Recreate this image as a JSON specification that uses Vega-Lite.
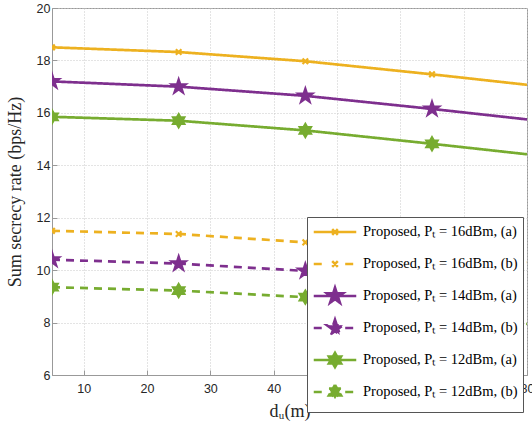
{
  "$schema": "https://vega.github.io/schema/vega-lite/v6.json",
  "width": 475,
  "height": 367,
  "autosize": "none",
  "padding": {"left": 52, "top": 8, "right": 5, "bottom": 58},
  "background": "white",
  "config": {
    "view": {"stroke": "#999999", "strokeWidth": 1},
    "axis": {
      "domainColor": "#999999",
      "tickColor": "#999999",
      "labelFont": "Liberation Sans",
      "labelFontSize": 12.5,
      "labelColor": "#262626",
      "titleFont": "Liberation Serif",
      "titleFontSize": 18,
      "titleFontWeight": "normal",
      "titleColor": "#262626",
      "gridColor": "#c8c8c8",
      "gridDash": [1, 2],
      "gridWidth": 1
    }
  },
  "data": {
    "values": [
      {"series": "Proposed, Pₜ = 16dBm, (a)", "x": 5, "y": 18.5},
      {"series": "Proposed, Pₜ = 16dBm, (a)", "x": 25, "y": 18.32},
      {"series": "Proposed, Pₜ = 16dBm, (a)", "x": 45, "y": 17.97},
      {"series": "Proposed, Pₜ = 16dBm, (a)", "x": 65, "y": 17.47},
      {"series": "Proposed, Pₜ = 16dBm, (a)", "x": 80, "y": 17.07},
      {"series": "Proposed, Pₜ = 16dBm, (b)", "x": 5, "y": 11.5},
      {"series": "Proposed, Pₜ = 16dBm, (b)", "x": 25, "y": 11.38},
      {"series": "Proposed, Pₜ = 16dBm, (b)", "x": 45, "y": 11.06},
      {"series": "Proposed, Pₜ = 16dBm, (b)", "x": 65, "y": 10.65},
      {"series": "Proposed, Pₜ = 16dBm, (b)", "x": 80, "y": 10.31},
      {"series": "Proposed, Pₜ = 14dBm, (a)", "x": 5, "y": 17.2},
      {"series": "Proposed, Pₜ = 14dBm, (a)", "x": 25, "y": 17.0},
      {"series": "Proposed, Pₜ = 14dBm, (a)", "x": 45, "y": 16.65},
      {"series": "Proposed, Pₜ = 14dBm, (a)", "x": 65, "y": 16.15},
      {"series": "Proposed, Pₜ = 14dBm, (a)", "x": 80, "y": 15.75},
      {"series": "Proposed, Pₜ = 14dBm, (b)", "x": 5, "y": 10.4},
      {"series": "Proposed, Pₜ = 14dBm, (b)", "x": 25, "y": 10.25},
      {"series": "Proposed, Pₜ = 14dBm, (b)", "x": 45, "y": 9.97},
      {"series": "Proposed, Pₜ = 14dBm, (b)", "x": 65, "y": 9.6},
      {"series": "Proposed, Pₜ = 14dBm, (b)", "x": 80, "y": 9.35},
      {"series": "Proposed, Pₜ = 12dBm, (a)", "x": 5, "y": 15.85},
      {"series": "Proposed, Pₜ = 12dBm, (a)", "x": 25, "y": 15.7},
      {"series": "Proposed, Pₜ = 12dBm, (a)", "x": 45, "y": 15.33},
      {"series": "Proposed, Pₜ = 12dBm, (a)", "x": 65, "y": 14.82},
      {"series": "Proposed, Pₜ = 12dBm, (a)", "x": 80, "y": 14.42},
      {"series": "Proposed, Pₜ = 12dBm, (b)", "x": 5, "y": 9.35},
      {"series": "Proposed, Pₜ = 12dBm, (b)", "x": 25, "y": 9.22},
      {"series": "Proposed, Pₜ = 12dBm, (b)", "x": 45, "y": 8.97},
      {"series": "Proposed, Pₜ = 12dBm, (b)", "x": 65, "y": 8.45},
      {"series": "Proposed, Pₜ = 12dBm, (b)", "x": 80, "y": 7.95}
    ]
  },
  "layer": [
    {
      "mark": {"type": "line", "strokeWidth": 2.7, "clip": true},
      "encoding": {
        "x": {
          "field": "x", "type": "quantitative",
          "scale": {"domain": [5, 80], "nice": false, "zero": false},
          "axis": {
            "values": [10, 20, 30, 40, 50, 60, 70, 80],
            "labelOverlap": false,
            "labelFlush": false,
            "tickSize": -5,
            "labelPadding": 12,
            "title": "dᵤ(m)",
            "titlePadding": 8
          }
        },
        "y": {
          "field": "y", "type": "quantitative",
          "scale": {"domain": [6, 20], "nice": false, "zero": false},
          "axis": {
            "values": [6,6.5,7,7.5,8,8.5,9,9.5,10,10.5,11,11.5,12,12.5,13,13.5,14,14.5,15,15.5,16,16.5,17,17.5,18,18.5,19,19.5,20],
            "labelExpr": "datum.value % 2 === 0 ? datum.label : ''",
            "labelOverlap": false,
            "labelFlush": false,
            "tickSize": -5,
            "tickOpacity": {"condition": {"test": "datum.value % 2 === 0", "value": 1}, "value": 0},
            "labelPadding": 7,
            "title": "Sum secrecy rate (bps/Hz)",
            "titlePadding": 12
          }
        },
        "color": {
          "field": "series", "type": "nominal",
          "scale": {
            "domain": ["Proposed, Pₜ = 16dBm, (a)", "Proposed, Pₜ = 16dBm, (b)", "Proposed, Pₜ = 14dBm, (a)", "Proposed, Pₜ = 14dBm, (b)", "Proposed, Pₜ = 12dBm, (a)", "Proposed, Pₜ = 12dBm, (b)"],
            "range": ["#EDB120", "#EDB120", "#7E2F8E", "#7E2F8E", "#77AC30", "#77AC30"]
          },
          "legend": {
            "title": null,
            "orient": "none",
            "legendX": 255,
            "legendY": 209,
            "fillColor": "white",
            "strokeColor": "#555555",
            "padding": 5,
            "symbolOffset": 13,
            "labelOffset": 18,
            "labelFont": "Liberation Serif",
            "labelFontSize": 14.5,
            "labelColor": "black",
            "labelLimit": 300,
            "symbolSize": 289,
            "symbolStrokeWidth": 2.5,
            "rowPadding": 2
          }
        },
        "strokeDash": {
          "field": "series", "type": "nominal",
          "scale": {
            "domain": ["Proposed, Pₜ = 16dBm, (a)", "Proposed, Pₜ = 16dBm, (b)", "Proposed, Pₜ = 14dBm, (a)", "Proposed, Pₜ = 14dBm, (b)", "Proposed, Pₜ = 12dBm, (a)", "Proposed, Pₜ = 12dBm, (b)"],
            "range": [[1, 0], [8, 6], [1, 0], [8, 6], [1, 0], [8, 6]]
          },
          "legend": null
        }
      }
    },
    {
      "transform": [{"filter": "indexof(datum.series, '16dBm') >= 0 && datum.x <= 65"}],
      "mark": {"type": "point", "shape": "M-0.33,-0.33L0.33,0.33M-0.33,0.33L0.33,-0.33", "filled": false, "color": "#EDB120", "size": 289, "strokeWidth": 2.2, "opacity": 1, "clip": true},
      "encoding": {
        "x": {"field": "x", "type": "quantitative"},
        "y": {"field": "y", "type": "quantitative"}
      }
    },
    {
      "transform": [{"filter": "indexof(datum.series, '14dBm') >= 0 && datum.x <= 65"}],
      "mark": {"type": "point", "shape": "M0,-1L0.2245,-0.309L0.951,-0.309L0.363,0.118L0.588,0.809L0,0.382L-0.588,0.809L-0.363,0.118L-0.951,-0.309L-0.2245,-0.309Z", "filled": true, "fill": "#7E2F8E", "stroke": "#7E2F8E", "size": 289, "strokeWidth": 1.5, "opacity": 1, "clip": true},
      "encoding": {
        "x": {"field": "x", "type": "quantitative"},
        "y": {"field": "y", "type": "quantitative"}
      }
    },
    {
      "transform": [{"filter": "indexof(datum.series, '12dBm') >= 0 && datum.x <= 65"}],
      "mark": {"type": "point", "shape": "M0,-0.85L0.245,-0.425L0.736,-0.425L0.49,0L0.736,0.425L0.245,0.425L0,0.85L-0.245,0.425L-0.736,0.425L-0.49,0L-0.736,-0.425L-0.245,-0.425Z", "filled": true, "fill": "#77AC30", "stroke": "#77AC30", "size": 289, "strokeWidth": 1.5, "opacity": 1, "clip": true},
      "encoding": {
        "x": {"field": "x", "type": "quantitative"},
        "y": {"field": "y", "type": "quantitative"}
      }
    },
    {
      "transform": [{"filter": "false"}],
      "mark": {"type": "point", "filled": true, "size": 289, "strokeWidth": 2.5, "opacity": 1},
      "encoding": {
        "x": {"field": "x", "type": "quantitative"},
        "y": {"field": "y", "type": "quantitative"},
        "color": {"field": "series", "type": "nominal"},
        "shape": {
          "field": "series", "type": "nominal",
          "scale": {
            "domain": ["Proposed, Pₜ = 16dBm, (a)", "Proposed, Pₜ = 16dBm, (b)", "Proposed, Pₜ = 14dBm, (a)", "Proposed, Pₜ = 14dBm, (b)", "Proposed, Pₜ = 12dBm, (a)", "Proposed, Pₜ = 12dBm, (b)"],
            "range": [
              "M-0.33,-0.33L0.33,0.33M-0.33,0.33L0.33,-0.33M-2.5,0L2.5,0M0,-1.15M0,1.15",
              "M-0.33,-0.33L0.33,0.33M-0.33,0.33L0.33,-0.33M-2.5,0L-1.2,0M1.2,0L2.5,0M0,-1.15M0,1.15",
              "M0,-1L0.2245,-0.309L0.951,-0.309L0.363,0.118L0.588,0.809L0,0.382L-0.588,0.809L-0.363,0.118L-0.951,-0.309L-0.2245,-0.309ZM-2.5,0L2.5,0M0,-1.15M0,1.15",
              "M0,-1L0.2245,-0.309L0.951,-0.309L0.363,0.118L0.588,0.809L0,0.382L-0.588,0.809L-0.363,0.118L-0.951,-0.309L-0.2245,-0.309ZM-2.5,0L-1.2,0M1.2,0L2.5,0M0,-1.15M0,1.15",
              "M0,-0.85L0.245,-0.425L0.736,-0.425L0.49,0L0.736,0.425L0.245,0.425L0,0.85L-0.245,0.425L-0.736,0.425L-0.49,0L-0.736,-0.425L-0.245,-0.425ZM-2.5,0L2.5,0M0,-1.15M0,1.15",
              "M0,-0.85L0.245,-0.425L0.736,-0.425L0.49,0L0.736,0.425L0.245,0.425L0,0.85L-0.245,0.425L-0.736,0.425L-0.49,0L-0.736,-0.425L-0.245,-0.425ZM-2.5,0L-1.2,0M1.2,0L2.5,0M0,-1.15M0,1.15"
            ]
          }
        }
      }
    }
  ]
}
